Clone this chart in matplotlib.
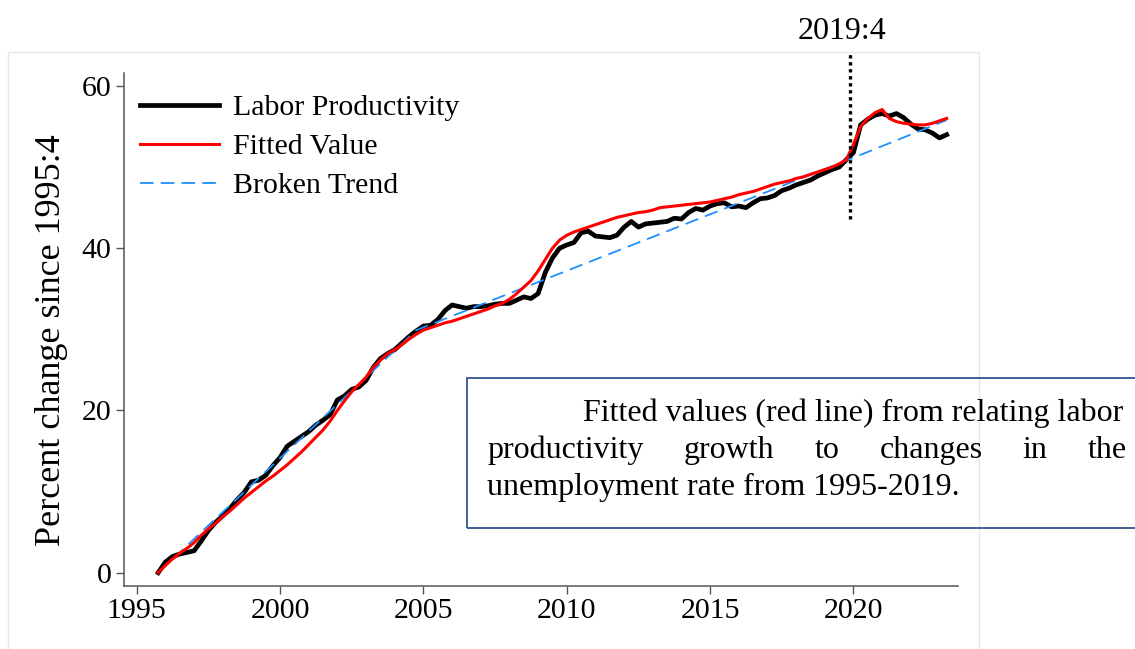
import numpy as np
import matplotlib
matplotlib.use("Agg")
import matplotlib.pyplot as plt
from matplotlib.patches import Rectangle

plt.rcParams['font.family'] = ['Liberation Serif', 'DejaVu Serif']

# quarterly dates, 1995:4 .. 2023:2
quarters = np.arange(1995.75, 2023.26, 0.25)

labor_productivity = [
    0.0,
    1.3, 2.0, 2.3, 2.5,
    2.7, 3.9, 5.2, 6.2,
    7.0, 7.9, 9.0, 9.9,
    11.2, 11.4, 12.0, 13.2,
    14.2, 15.6, 16.2, 16.8,
    17.4, 18.2, 18.8, 19.5,
    21.3, 21.8, 22.6, 22.9,
    23.7, 25.3, 26.4, 27.0,
    27.5, 28.3, 29.1, 29.8,
    30.4, 30.5, 31.2, 32.3,
    33.0, 32.8, 32.6, 32.8,
    32.8, 32.9, 33.1, 33.2,
    33.2, 33.6, 34.0, 33.8,
    34.4, 37.0, 38.8, 40.0,
    40.4, 40.7, 41.9, 42.1,
    41.5, 41.4, 41.3, 41.6,
    42.6, 43.3, 42.6, 43.0,
    43.1, 43.2, 43.3, 43.7,
    43.6, 44.4, 44.9, 44.7,
    45.2, 45.5, 45.6, 45.1,
    45.2, 45.0, 45.6, 46.1,
    46.2, 46.5, 47.1, 47.4,
    47.8, 48.1, 48.4, 48.9,
    49.3, 49.7, 50.0, 50.9,
    51.8, 55.2, 55.9, 56.4,
    56.6, 56.3, 56.6, 56.1,
    55.3, 54.7, 54.6, 54.2,
    53.6, 54.0,
]

fitted_value = [
    0.0,
    0.9, 1.7, 2.4, 3.0,
    3.7, 4.6, 5.4, 6.1,
    6.9, 7.6, 8.4, 9.2,
    9.9, 10.6, 11.3, 11.9,
    12.6, 13.3, 14.1, 14.9,
    15.8, 16.7, 17.6, 18.7,
    20.0, 21.2, 22.3, 23.2,
    24.1, 25.3, 26.2, 27.0,
    27.5, 28.1, 28.8, 29.4,
    29.9, 30.2, 30.5, 30.8,
    31.0, 31.3, 31.6, 31.9,
    32.2, 32.5, 32.9, 33.2,
    33.7, 34.4, 35.2, 36.0,
    37.2, 38.6, 40.0, 41.0,
    41.6, 42.0, 42.3, 42.6,
    42.9, 43.2, 43.5, 43.8,
    44.0, 44.2, 44.4, 44.5,
    44.7, 45.0, 45.1, 45.2,
    45.3, 45.4, 45.5, 45.6,
    45.7, 45.9, 46.1, 46.3,
    46.6, 46.8, 47.0, 47.3,
    47.6, 47.9, 48.1, 48.3,
    48.6, 48.8, 49.1, 49.4,
    49.7, 50.0, 50.4, 50.9,
    52.8, 55.0, 56.0, 56.7,
    57.1, 56.0, 55.6, 55.4,
    55.3, 55.2, 55.2, 55.4,
    55.7, 56.0,
]

# broken trend: knots of the piecewise linear line
trend_x = [1995.75, 2004.75, 2019.75, 2023.25]
trend_y = [0.0, 29.9, 50.8, 55.8]

break_x = 2019.87
x_ticks = [1995, 2000, 2005, 2010, 2015, 2020]
y_ticks = [0, 20, 40, 60]

note_lines = ["Fitted values (red line) from relating labor",
              "productivity growth to changes in the",
              "unemployment rate from 1995-2019."]

W, H = 1135, 649
fig = plt.figure(figsize=(W / 100, H / 100), dpi=100)


def fx(px):
    return px / W


def fy(py):
    return 1 - py / H


# faint outer frame
fig.patches.append(Rectangle((fx(8), fy(700)), fx(979) - fx(8), fy(52) - fy(700),
                             transform=fig.transFigure, fill=False,
                             edgecolor='#e6e6e6', lw=1.0))

ax = fig.add_axes([fx(124), fy(586), fx(958) - fx(124), fy(73) - fy(586)])
ax.plot(quarters, labor_productivity, color='black', lw=3.4, label='Labor Productivity')
ax.plot(trend_x, trend_y, color='#1E8FFF', lw=1.3, dashes=(7.5, 4), label='Broken Trend')
ax.plot(quarters, fitted_value, color='#FF0000', lw=2.2, label='Fitted Value')

ax.plot([break_x, break_x], [43.6, 64.3], color='black', lw=2.4,
        linestyle=(0, (1, 1.1)), clip_on=False)

ax.set_xlim(1994.557, 2023.646)
ax.set_ylim(-1.64, 61.6)
ax.set_xticks(x_ticks)
ax.set_yticks(y_ticks)
for s in ['top', 'right']:
    ax.spines[s].set_visible(False)
for s in ['left', 'bottom']:
    ax.spines[s].set_color('#555555')
    ax.spines[s].set_linewidth(1.1)
ax.tick_params(axis='both', direction='out', length=6, width=1.0, color='#555555',
               labelsize=21.5, pad=3)

h, l = ax.get_legend_handles_labels()
order = [0, 2, 1]
ax.legend([h[i] for i in order], [l[i] for i in order], loc='upper left',
          bbox_to_anchor=(0.0192, 0.958), frameon=False, fontsize=21.5,
          handlelength=2.65, handletextpad=0.48, labelspacing=0.40,
          borderpad=0, borderaxespad=0)

fig.text(fx(52), fy(340), 'Percent change since 1995:4', rotation=90,
         ha='center', va='center', fontsize=26)
fig.text(fx(842), fy(39), '2019:4', ha='center', va='baseline', fontsize=23)

# annotation box
fig.patches.append(Rectangle((fx(467), fy(528)), fx(1200) - fx(467), fy(378) - fy(528),
                             transform=fig.transFigure, fill=False,
                             edgecolor='#3F5E9A', lw=1.4, clip_on=False))
fs = 23
fig.text(fx(583), fy(421), note_lines[0], ha='left', va='baseline', fontsize=fs)
fig.text(fx(487), fy(495), note_lines[2], ha='left', va='baseline', fontsize=fs)

# justified middle line: spread words between the left margin and right edge
renderer = fig.canvas.get_renderer()
words = note_lines[1].split()
left_px, right_px = 487, 1127
word_texts = [fig.text(0, 0, w, fontsize=fs, ha='left', va='baseline') for w in words]
widths = [t.get_window_extent(renderer).width for t in word_texts]
gap = (right_px - left_px - sum(widths)) / (len(words) - 1)
xpos = left_px
for t, wd in zip(word_texts, widths):
    t.set_position((fx(xpos), fy(458)))
    xpos += wd + gap

fig.savefig('out.png', dpi=100)
